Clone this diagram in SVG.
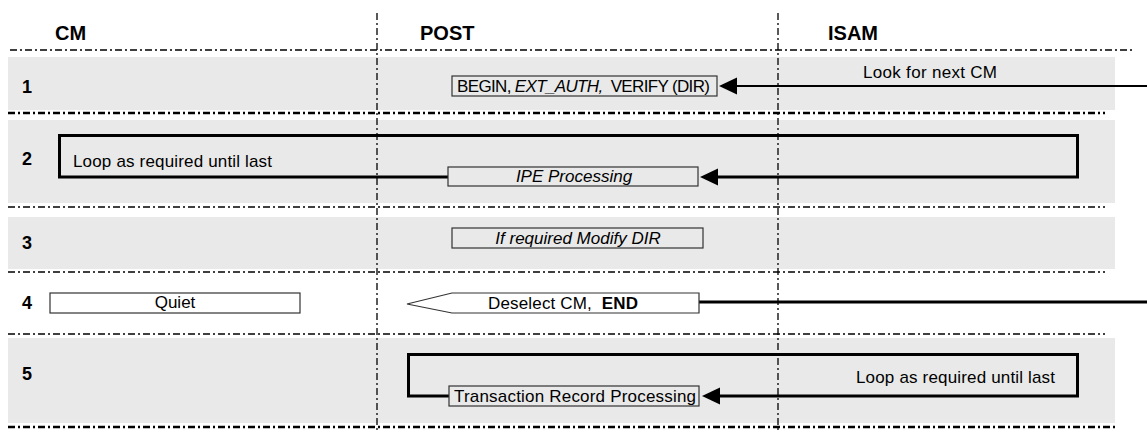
<svg xmlns="http://www.w3.org/2000/svg" width="1147" height="432" viewBox="0 0 1147 432">
  <style>
    text { font-family: "Liberation Sans", Arial, sans-serif; fill: #000; }
    .hdr { font-size: 20px; font-weight: bold; }
    .num { font-size: 18px; font-weight: bold; }
    .lbl { font-size: 17px; }
    .it { font-style: italic; }
    .band { fill: #e9e9e9; }
    .sep { fill: none; stroke: #000; stroke-width: 1.5; stroke-dasharray: 7 3 2 3; }
    .sep.thick { stroke-width: 2.6; }
    .lane { fill: none; stroke: #000; stroke-width: 1.3; stroke-dasharray: 7 3 2 3; }
    .box { fill: #e9e9e9; stroke: #333; stroke-width: 1.2; }
    .wbox { fill: #fff; stroke: #333; stroke-width: 1.2; }
    .flow { fill: none; stroke: #000; stroke-width: 3; }
    .flow.thin { stroke-width: 2.2; }
    .head { fill: #000; }
  </style>

  <!-- row bands -->
  <g id="bands">
    <rect class="band" x="8" y="57" width="1107" height="53"/>
    <rect class="band" x="8" y="120" width="1107" height="83"/>
    <rect class="band" x="8" y="217" width="1107" height="52"/>
    <rect class="band" x="8" y="338" width="1107" height="85"/>
  </g>

  <!-- row separators and lane dividers -->
  <g id="grid">
    <line class="sep" x1="10" y1="50" x2="1133" y2="50"/>
    <line class="sep thick" x1="8" y1="113" x2="1105" y2="113"/>
    <line class="sep" x1="8" y1="207" x2="1105" y2="207"/>
    <line class="sep" x1="8" y1="272" x2="1105" y2="272"/>
    <line class="sep" x1="8" y1="334" x2="1105" y2="334"/>
    <line class="sep thick" x1="8" y1="427" x2="1115" y2="427"/>
    <line class="lane" x1="377" y1="13" x2="377" y2="432"/>
    <line class="lane" x1="778" y1="13" x2="778" y2="432"/>
  </g>

  <!-- lane headers -->
  <g id="headers">
    <text class="hdr" x="55" y="40">CM</text>
    <text class="hdr" x="420" y="40">POST</text>
    <text class="hdr" x="828" y="40">ISAM</text>
  </g>

  <!-- step numbers -->
  <g id="steps">
    <text class="num" x="22" y="93">1</text>
    <text class="num" x="22" y="165">2</text>
    <text class="num" x="22" y="249">3</text>
    <text class="num" x="22" y="309">4</text>
    <text class="num" x="22" y="380">5</text>
  </g>

  <!-- connectors -->
  <g id="connectors">
    <!-- step 1 -->
    <line class="flow thin" x1="1147" y1="86" x2="735" y2="86"/>
    <polygon class="head" points="719,86 737,77.5 737,94.5"/>
    <!-- step 2 loop -->
    <polyline class="flow" points="448,177 59.5,177 59.5,135.5 1077.5,135.5 1077.5,177 716,177"/>
    <polygon class="head" points="700,177 718,168.5 718,185.5"/>
    <!-- step 4 -->
    <line class="flow" x1="699" y1="302" x2="1147" y2="302"/>
    <!-- step 5 loop -->
    <polyline class="flow" points="449,396 408.5,396 408.5,354.5 1077.5,354.5 1077.5,396 718,396"/>
    <polygon class="head" points="702,396 720,387.5 720,404.5"/>
  </g>

  <g id="n1-begin">
    <rect class="box" x="452" y="76" width="265" height="20"/>
    <text class="lbl" x="457" y="92" font-size="16" textLength="253">BEGIN, <tspan class="it">EXT_AUTH,</tspan>&#160; VERIFY (DIR)</text>
  </g>
  <g id="n1-look">
    <text class="lbl" x="863" y="78" textLength="134">Look for next CM</text>
  </g>

  <g id="n2-loop-label">
    <text class="lbl" x="73" y="167" textLength="199">Loop as required until last</text>
  </g>
  <g id="n2-ipe">
    <rect class="box" x="448" y="167" width="250" height="19"/>
    <text class="lbl it" x="574" y="182" text-anchor="middle">IPE Processing</text>
  </g>

  <g id="n3-modify">
    <rect class="box" x="452" y="228" width="251" height="20"/>
    <text class="lbl it" x="578" y="244" text-anchor="middle">If required Modify DIR</text>
  </g>

  <g id="n4-quiet">
    <rect class="wbox" x="50" y="293" width="250" height="20"/>
    <text class="lbl" x="175" y="308" text-anchor="middle">Quiet</text>
  </g>
  <g id="n4-deselect">
    <polygon class="wbox" points="407,304 452,293 699,293 699,313 452,313"/>
    <text class="lbl" x="488" y="309" textLength="150">Deselect CM,&#160; <tspan font-weight="bold">END</tspan></text>
  </g>

  <g id="n5-loop-label">
    <text class="lbl" x="856" y="383" textLength="199">Loop as required until last</text>
  </g>
  <g id="n5-transaction">
    <rect class="box" x="449" y="386" width="250" height="20"/>
    <text class="lbl" x="454" y="402" textLength="242">Transaction Record Processing</text>
  </g>
</svg>
